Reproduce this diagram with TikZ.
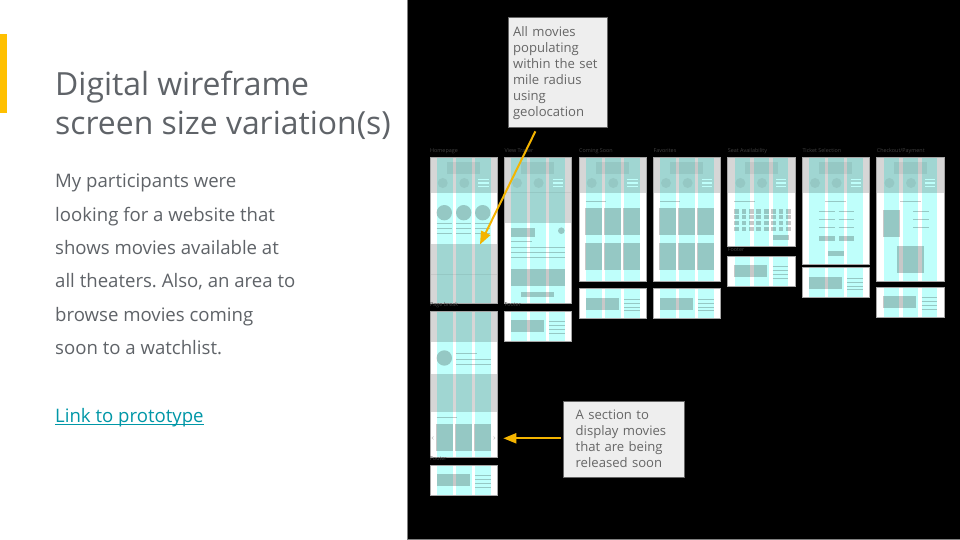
\documentclass[tikz,border=0pt]{standalone}
\usepackage{fontspec}
\setmainfont{Open Sans}
\usepackage{xcolor}
\usetikzlibrary{arrows.meta, positioning}
\definecolor{titlegray}{RGB}{95, 99, 104}
\definecolor{barorange}{RGB}{255, 192, 0}
\definecolor{arroworange}{RGB}{244, 180, 0}
\definecolor{linkteal}{RGB}{0, 151, 167}
\definecolor{notefill}{RGB}{238, 238, 238}
\definecolor{notetext}{RGB}{102, 102, 102}
\definecolor{wfband}{RGB}{214, 214, 214}
\definecolor{wfblock}{RGB}{200, 200, 200}
\definecolor{wfcol}{RGB}{191, 255, 251}
\definecolor{wflabel}{RGB}{66, 66, 66}
\tikzset{
  wfedge/.style={draw=gray!70,line width=0.6pt},
  wfrule/.style={draw=wfblock,line width=1pt},
  wfcolumn/.style={fill=wfcol,blend mode=multiply},
  wftitle/.style={anchor=base west,inner sep=0pt,text=wflabel,font=\fontsize{5.4}{6}\selectfont},
  notebox/.style={draw=notetext,line width=0.7pt,fill=notefill,text=notetext,anchor=north west,align=left,inner sep=0pt,font=\fontsize{13.1}{16}\selectfont},
  notearrow/.style={arroworange,line width=2pt,-{Triangle[length=13pt,width=10pt]}}
}
% one screen: x, y, height, contents
\newcommand{\wfscreen}[4]{
  \begin{scope}[shift={(#1,#2)}]
    \fill[white] (0,0) rectangle (67.3,#3);
    #4
    \foreach \cx in {7,26,45}
      \fill[wfcolumn] (\cx,0) rectangle ++(15.7,#3);
    \draw[wfedge] (0,0) rectangle (67.3,#3);
  \end{scope}
}
% header band with logo, two icons and menu
\newcommand{\wfheader}{
  \fill[wfband] (0,0) rectangle (67.3,35.5);
  \fill[wfblock] (17,4.3) rectangle (50,16);
  \fill[wfblock] (12.7,25.3) circle (5);
  \fill[wfblock] (34.3,25.3) circle (5);
  \foreach \ly in {21.7,25.3,29}
    \draw[white,line width=1pt] (48.3,\ly) -- (58.7,\ly);
}
% footer screen
\newcommand{\wffooter}[2]{
  \wfscreen{#1}{#2}{30}{
    \fill[wfblock] (6.7,9) rectangle (39.7,21);
    \foreach \ly in {10.7,14.5,18.3,22}
      \draw[wfrule] (45,\ly) -- (60.7,\ly);
  }
}
% two rows of three posters
\newcommand{\wfposters}{
  \draw[wfrule] (6.7,43.3) -- (27,43.3);
  \foreach \px in {6,25,44} {
    \fill[wfblock] (\px,50.3) rectangle ++(17,27);
    \fill[wfblock] (\px,85) rectangle ++(17,27.3);
  }
}
\begin{document}
\frenchspacing
\begin{tikzpicture}[x=1pt, y=-1pt]

    % Page
    \fill[white] (0,0) rectangle (960,540);
    \useasboundingbox (0,0) rectangle (960,540);
    \fill[barorange] (0,34.3) rectangle (7,113);
    \fill[black] (407.5,0) rectangle (960,539);
    \draw[gray,line width=0.7pt] (407.5,0) -- (407.5,539) -- (960,539);

    % Left column
    \node[anchor=base west,inner sep=0pt,text=titlegray,align=left,font=\fontsize{31.9}{39.3}\selectfont] at (55,134.8) (title) {Digital wireframe\\screen size variation(s)};
    \node[anchor=base west,inner sep=0pt,text=titlegray,align=left,font=\fontsize{18.6}{33.4}\selectfont] at (55,354.7) (body) {My participants were\\looking for a website that\\shows movies available at\\all theaters. Also, an area to\\browse movies coming\\soon to a watchlist.};
    \node[anchor=base west,inner sep=0pt,text=linkteal,font=\fontsize{18.6}{22}\selectfont] at (55,422.4) (link) {Link to prototype};
    \draw[linkteal,line width=1.2pt] ([yshift=-2.4pt]link.base west) -- ([yshift=-2.4pt]link.base east);

    % Homepage
    \wfscreen{430}{157.7}{146}{
      \wfheader
      \fill[wfband] (0,86.7) rectangle (67.3,146);
      \draw[wfblock,line width=0.5pt] (0,116.7) -- (67.3,116.7);
      \foreach \cc in {14.3,33.7,52.7} {
        \fill[wfblock] (\cc,55) circle (7.7);
        \foreach \ly in {65.7,70.3,75.3}
          \draw[wfrule] (\cc-7.7,\ly) -- (\cc+7.7,\ly);
      }
    }

    % Page break
    \wfscreen{430}{311}{146.5}{
      \fill[wfband] (0,0) rectangle (67.3,30.7);
      \fill[wfband] (0,63.3) rectangle (67.3,100.7);
      \fill[wfblock] (14.3,47) circle (7.7);
      \draw[wfrule] (26,42.3) -- (46.7,42.3);
      \draw[wfrule] (26,48.3) -- (60.7,48.3);
      \draw[wfrule] (26,53) -- (60.7,53);
      \draw[wfrule] (6.7,106.7) -- (27.3,106.7);
      \foreach \px in {6,25,44}
        \fill[wfblock] (\px,113) rectangle ++(17.3,27);
      \draw[wfblock,line width=0.4pt] (3.5,125.5) -- (2,127) -- (3.5,128.5);
      \draw[wfblock,line width=0.4pt] (63.5,125.5) -- (65,127) -- (63.5,128.5);
    }
    \wffooter{430}{465}

    % View trailer
    \wfscreen{504.3}{157.7}{146}{
      \wfheader
      \fill[wfband] (0,35.5) rectangle (67.3,65);
      \draw[wfblock,line width=0.5pt] (0,34.7) -- (67.3,34.7);
      \fill[wfblock] (6.7,70.3) rectangle (31,79);
      \fill[wfblock] (57,73) circle (3.3);
      \draw[wfrule] (6.7,84) -- (27.3,84);
      \foreach \ly in {90,95,99.7}
        \draw[wfrule] (6.7,\ly) -- (60.7,\ly);
      \fill[wfblock] (6.7,111) rectangle (60.7,128.3);
      \fill[wfblock] (17,134.7) rectangle (50,139.3);
    }
    \wffooter{504.3}{311}

    % Coming soon and favorites
    \wfscreen{579}{157.7}{124}{\wfheader \wfposters}
    \wffooter{579}{288.7}
    \wfscreen{653.3}{157.7}{124}{\wfheader \wfposters}
    \wffooter{653.3}{288.7}

    % Seat availability
    \wfscreen{727.7}{157.7}{88.3}{
      \wfheader
      \draw[wfrule] (6.7,43.3) -- (27,43.3);
      \foreach \sx in {0,...,7}
        \foreach \sy in {0,...,3}
          \fill[wfblock] (6.7+\sx*7.35,51.5+\sy*5.8) rectangle ++(4.7,4.4);
      \fill[wfblock] (45.3,77.7) rectangle (61.3,82.3);
    }
    \wffooter{727.7}{256}

    % Ticket selection
    \wfscreen{802.3}{157.7}{106.7}{
      \wfheader
      \draw[wfrule] (22.7,43.3) -- (43.7,43.3);
      \foreach \ly in {53.3,61.7,69.7} {
        \draw[wfrule] (17,\ly) -- (32.7,\ly);
        \draw[wfrule] (36.3,\ly) -- (51.7,\ly);
      }
      \fill[wfblock] (17,78.3) rectangle (32.7,83);
      \fill[wfblock] (36.3,78.3) rectangle (51.7,83);
      \fill[wfblock] (26,93.3) rectangle (41.7,98.3);
    }
    \wffooter{802.3}{267.7}

    % Checkout
    \wfscreen{876.7}{157.7}{124}{
      \wfheader
      \draw[wfrule] (23.3,43.3) -- (44,43.3);
      \fill[wfblock] (6.3,52.7) rectangle (23.3,79.7);
      \foreach \ly in {53.3,61.7,69.7}
        \draw[wfrule] (36.7,\ly) -- (52,\ly);
      \fill[wfblock] (20,88.3) rectangle (47.3,115.7);
    }
    \wffooter{876.7}{287}

    % Screen titles
    \foreach \tx/\ty/\tname/\ttext in {430/152.5/home/Homepage, 504.3/152.5/trailer/View Trailer, 579/152.5/soon/Coming Soon, 653.3/152.5/favorites/Favorites, 727.7/152.5/seats/Seat Availability, 802.3/152.5/ticket/Ticket Selection, 876.7/152.5/checkout/{Checkout/Payment}, 430/306/pagebreak/Page break, 504.3/306/footerb/Footer, 430/460/footera/Footer, 727.7/251.5/footerc/Footer}
      \node[wftitle] at (\tx,\ty) (\tname) {\ttext};

    % Callouts
    \node[notebox,minimum width=98.4pt,minimum height=110.6pt,text width=98.4pt] at (508.3,16.7) (note1) {\rule{0pt}{12pt}\hspace*{4.4pt}All movies\\\hspace*{4.4pt}populating\\\hspace*{4.4pt}within the set\\\hspace*{4.4pt}mile radius\\\hspace*{4.4pt}using\\\hspace*{4.4pt}geolocation};
    \node[notebox,minimum width=121pt,minimum height=76.6pt,text width=121pt] at (563.3,400.7) (note2) {\hspace*{12pt}A section to\\\hspace*{12pt}display movies\\\hspace*{12pt}that are being\\\hspace*{12pt}released soon\par\vspace*{2pt}};

    % Arrows
    \coordinate (hometip) at (480,244.5);
    \coordinate (soontip) at (503.3,438.3);
    \draw[notearrow] ([xshift=-22.5pt,yshift=-3.4pt]note1.south) -- (hometip);
    \draw[notearrow] ([xshift=-2.6pt]note2.west |- soontip) -- (soontip);

\end{tikzpicture}
\end{document}
